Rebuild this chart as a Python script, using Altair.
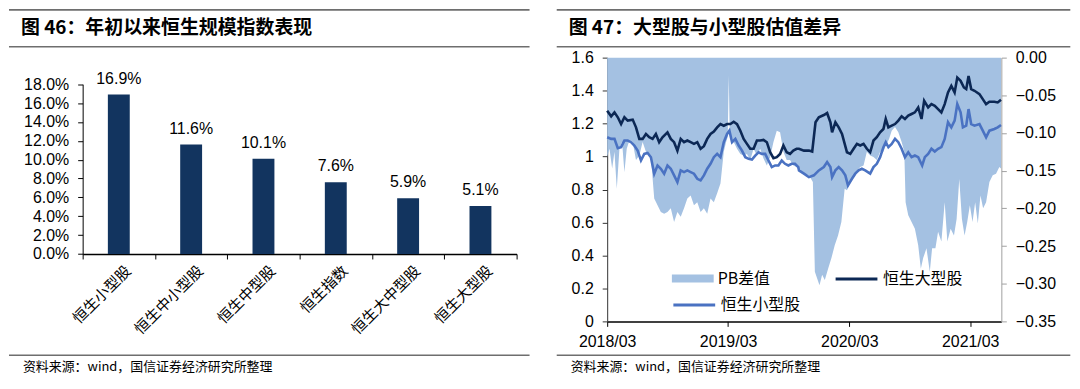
import altair as alt
import pandas as pd

CJK = "Noto Sans CJK SC"
LAT = "Liberation Sans"

# ---------------- left chart data ----------------
bar_names = ["恒生小型股", "恒生中小型股", "恒生中型股", "恒生指数", "恒生大中型股", "恒生大型股"]
bar_values = [0.169, 0.116, 0.101, 0.076, 0.059, 0.051]
left_ticks = [0, 0.02, 0.04, 0.06, 0.08, 0.10, 0.12, 0.14, 0.16, 0.18]

# ---------------- right chart data (days after 2018-03-01) ----------------
base_date = pd.Timestamp("2018-03-01")

big_days = [0, 12, 22, 32, 42, 52, 62, 77, 87, 97, 107, 117, 127, 137, 147, 157, 167, 182, 192, 202,
            212, 222, 232, 242, 252, 262, 272, 282, 292, 302, 312, 322, 332, 342, 352, 362, 372, 382,
            392, 402, 412, 422, 432, 442, 452, 462, 472, 482, 492, 502, 512, 522, 532, 542, 552, 562,
            572, 579, 594, 609, 619, 629, 639, 654, 664, 674, 679, 689, 699, 709, 724, 734, 744, 754,
            764, 774, 784, 794, 804, 814, 824, 834, 841, 849, 859, 869, 879, 889, 899, 909, 919, 929,
            939, 949, 957, 969, 979, 989, 999, 1009, 1019, 1029, 1039, 1049, 1057, 1067, 1077, 1084,
            1091, 1099, 1109, 1124, 1134, 1144, 1154, 1169, 1179, 1189]
big_vals = [1.278, 1.244, 1.268, 1.238, 1.197, 1.238, 1.218, 1.224, 1.177, 1.107, 1.107, 1.137, 1.117,
            1.107, 1.137, 1.087, 1.117, 1.147, 1.107, 1.087, 1.036, 1.107, 1.087, 1.097, 1.087, 1.077,
            1.087, 1.047, 1.063, 1.107, 1.137, 1.151, 1.177, 1.197, 1.187, 1.197, 1.197, 1.211, 1.197,
            1.157, 1.107, 1.077, 1.047, 1.047, 1.097, 1.097, 1.101, 1.087, 1.026, 0.990, 0.996, 1.016,
            1.067, 1.026, 1.016, 1.036, 1.047, 1.047, 1.036, 1.036, 1.030, 1.208, 1.238, 1.252, 1.264,
            1.208, 1.147, 1.208, 1.177, 1.137, 1.026, 1.016, 1.047, 1.077, 1.067, 1.077, 1.047, 1.026,
            1.097, 1.117, 1.147, 1.167, 1.228, 1.177, 1.187, 1.197, 1.218, 1.244, 1.228, 1.248, 1.258,
            1.268, 1.298, 1.228, 1.338, 1.298, 1.318, 1.308, 1.288, 1.268, 1.318, 1.389, 1.429, 1.389,
            1.479, 1.459, 1.419, 1.409, 1.489, 1.409, 1.399, 1.379, 1.348, 1.318, 1.332, 1.332, 1.328,
            1.344]

small_days = [0, 12, 22, 32, 42, 52, 62, 72, 82, 92, 102, 112, 122, 132, 142, 152, 162, 172, 182, 192,
              202, 212, 222, 232, 242, 252, 262, 272, 282, 292, 302, 312, 322, 332, 342, 352, 362, 369,
              377, 387, 397, 407, 417, 427, 437, 447, 457, 467, 477, 487, 497, 507, 517, 527, 537, 547,
              557, 567, 577, 579, 594, 609, 624, 639, 654, 664, 674, 679, 689, 699, 709, 719, 727, 739,
              749, 759, 769, 779, 794, 804, 814, 824, 834, 841, 849, 859, 869, 879, 889, 899, 909, 919,
              929, 939, 951, 959, 969, 979, 989, 999, 1009, 1019, 1029, 1039, 1049, 1057, 1067, 1074,
              1084, 1091, 1099, 1109, 1124, 1134, 1144, 1154, 1169, 1179, 1189]
small_vals = [1.117, 1.107, 1.107, 1.051, 1.057, 1.097, 1.097, 1.087, 1.067, 1.036, 0.976, 1.016, 1.022,
              0.996, 0.896, 0.946, 0.926, 0.896, 0.946, 0.926, 0.886, 0.845, 0.916, 0.906, 0.916, 0.906,
              0.896, 0.865, 0.855, 0.886, 0.926, 0.956, 0.996, 1.016, 0.996, 1.087, 1.137, 1.157, 1.087,
              1.107, 1.067, 1.036, 0.996, 0.986, 0.982, 1.006, 1.026, 1.016, 1.016, 0.976, 0.936, 0.946,
              0.946, 0.976, 0.956, 0.946, 0.956, 0.956, 0.936, 0.916, 0.896, 0.875, 0.886, 0.916, 0.936,
              0.966, 0.936, 0.875, 0.916, 0.936, 0.916, 0.886, 0.825, 0.865, 0.896, 0.916, 0.926, 0.916,
              0.896, 0.936, 0.956, 0.996, 1.057, 1.087, 1.057, 1.077, 1.107, 1.087, 1.047, 0.996, 1.026,
              0.996, 1.006, 0.996, 0.946, 0.996, 1.016, 1.047, 1.030, 1.047, 1.057, 1.107, 1.208, 1.177,
              1.218, 1.318, 1.268, 1.177, 1.187, 1.288, 1.197, 1.187, 1.197, 1.157, 1.117, 1.157, 1.167,
              1.177, 1.191]

pb_days = [0, 7, 15, 22, 29, 37, 45, 52, 59, 67, 77, 87, 97, 107, 117, 132, 142, 152, 162, 172, 182,
           192, 202, 212, 222, 232, 242, 252, 262, 272, 282, 292, 302, 312, 322, 332, 342, 352, 359,
           364, 367, 370, 382, 392, 402, 412, 422, 432, 442, 452, 462, 472, 482, 492, 502, 512, 522,
           532, 542, 552, 562, 572, 579, 594, 609, 621, 627, 634, 641, 649, 657, 667, 677, 687, 697,
           707, 717, 724, 734, 744, 754, 764, 774, 784, 794, 804, 814, 824, 834, 841, 851, 859, 869,
           879, 889, 897, 901, 909, 919, 929, 939, 947, 954, 964, 974, 981, 991, 999, 1009, 1019, 1027,
           1037, 1047, 1055, 1063, 1071, 1079, 1087, 1095, 1103, 1111, 1119, 1127, 1135, 1144, 1154,
           1164, 1174, 1184, 1189]
pb_vals = [-0.132, -0.121, -0.147, -0.125, -0.174, -0.121, -0.112, -0.152, -0.121, -0.110, -0.112,
           -0.136, -0.130, -0.112, -0.125, -0.132, -0.187, -0.196, -0.205, -0.207, -0.205, -0.200,
           -0.218, -0.205, -0.211, -0.200, -0.187, -0.183, -0.196, -0.192, -0.205, -0.200, -0.207,
           -0.187, -0.192, -0.180, -0.167, -0.125, -0.112, -0.105, -0.024, -0.100, -0.112, -0.121,
           -0.128, -0.130, -0.128, -0.136, -0.121, -0.130, -0.121, -0.134, -0.143, -0.132, -0.112,
           -0.097, -0.099, -0.125, -0.136, -0.136, -0.143, -0.145, -0.150, -0.154, -0.156, -0.165,
           -0.284, -0.293, -0.302, -0.288, -0.295, -0.280, -0.266, -0.249, -0.236, -0.218, -0.174,
           -0.176, -0.165, -0.156, -0.150, -0.145, -0.143, -0.125, -0.130, -0.132, -0.136, -0.125,
           -0.125, -0.117, -0.108, -0.097, -0.092, -0.099, -0.112, -0.125, -0.192, -0.209, -0.218,
           -0.227, -0.249, -0.280, -0.266, -0.253, -0.284, -0.253, -0.253, -0.231, -0.244, -0.192,
           -0.244, -0.227, -0.236, -0.214, -0.161, -0.214, -0.236, -0.218, -0.196, -0.218, -0.192,
           -0.220, -0.183, -0.200, -0.192, -0.165, -0.156, -0.154, -0.145, -0.147]

right_left_ticks = [0, 0.2, 0.4, 0.6, 0.8, 1.0, 1.2, 1.4, 1.6]
right_right_ticks = [0, -0.05, -0.10, -0.15, -0.20, -0.25, -0.30, -0.35]
x_tick_years = [2018, 2019, 2020, 2021]


def to_dates(days):
    return [(base_date + pd.Timedelta(days=d)).strftime("%Y-%m-%d") for d in days]


big_df = pd.DataFrame({"date": to_dates(big_days), "v": big_vals, "s": "恒生大型股"})
small_df = pd.DataFrame({"date": to_dates(small_days), "v": small_vals, "s": "恒生小型股"})
pb_df = pd.DataFrame({"date": to_dates(pb_days), "v": pb_vals, "s": "PB差值"})
bar_df = pd.DataFrame({"name": bar_names, "v": bar_values})


# ---------------- decorations ----------------
def hrule(x1, x2, y):
    return alt.Chart(pd.DataFrame({"k": [0]})).mark_rule(
        color="#6e6e6e", strokeWidth=1.6
    ).encode(x=alt.value(x1), x2=alt.value(x2), y=alt.value(y))


def label(text, x, y, size, bold):
    return alt.Chart(pd.DataFrame({"t": [text]})).mark_text(
        align="left", baseline="middle", fontSize=size, font=CJK,
        fontWeight="bold" if bold else "normal", color="#000"
    ).encode(x=alt.value(x), y=alt.value(y), text="t:N")


# ---------------- left panel (view origin shares the row top with right panel) ----------------
LEFT_H = 197.3
x_left = alt.X(
    "name:N", sort=bar_names,
    scale=alt.Scale(paddingInner=0, paddingOuter=0),
    axis=alt.Axis(title=None, labelAngle=-45, labelFontSize=15, labelFont=CJK, labelColor="#000",
                  tickBand="extent", domainColor="#000", domainWidth=1.5, tickColor="#000",
                  tickSize=5, labelPadding=4, labelOffset=4),
)
y_left = alt.Y(
    "v:Q", scale=alt.Scale(domain=[0, 0.18], nice=False, range=[LEFT_H, 26.7]),
    axis=alt.Axis(title=None, values=left_ticks, format=".1%", grid=False, labelFontSize=16,
                  labelFont=LAT, labelColor="#000", domainColor="#000", tickColor="#000",
                  tickSize=5, labelPadding=9),
)
bars = alt.Chart(bar_df).mark_bar(width=22, color="#12345f").encode(x=x_left, y=y_left)
bar_text = alt.Chart(bar_df).mark_text(
    baseline="alphabetic", dy=-11, fontSize=16, font=LAT, color="#000"
).encode(x=x_left, y=y_left, text=alt.Text("v:Q", format=".1%"))

left = alt.layer(
    bars, bar_text,
    hrule(-74, 449, -48),
    hrule(-74, 449, -11),
    hrule(-74, 449, 299),
    label("图 46：年初以来恒生规模指数表现", -62, -30, 19, True),
    label("资料来源：wind，国信证券经济研究所整理", -60, 311, 13, False),
).properties(width=436, height=LEFT_H)

# ---------------- right panel ----------------
x_right = alt.X(
    "date:T",
    scale=alt.Scale(type="utc", domain=[alt.DateTime(year=2018, month=3, date=1, utc=True),
                                        alt.DateTime(year=2021, month=6, date=3, utc=True)]),
    axis=alt.Axis(title=None, values=[alt.DateTime(year=y, month=3, date=1, utc=True) for y in x_tick_years],
                  labelExpr="utcFormat(datum.value, '%Y/%m')", grid=False, labelFlush=False,
                  domainColor="#000", domainWidth=1.5, tickColor="#000", tickSize=5,
                  labelFontSize=16, labelFont=LAT, labelColor="#000", labelPadding=7),
)
y_lines = alt.Y(
    "v:Q", scale=alt.Scale(domain=[0, 1.6], nice=False),
    axis=alt.Axis(title=None, orient="left", values=right_left_ticks, format=".1~f", grid=False,
                  labelFontSize=16, labelFont=LAT, labelColor="#000", domainColor="#333",
                  tickColor="#333", tickSize=5, labelPadding=9),
)
y_lines_hidden = alt.Y("v:Q", scale=alt.Scale(domain=[0, 1.6], nice=False), axis=None)
y_pb = alt.Y(
    "v:Q", scale=alt.Scale(domain=[-0.35, 0], nice=False),
    axis=alt.Axis(title=None, orient="right", values=right_right_ticks, format=".2f", grid=False,
                  labelFontSize=16, labelFont=LAT, labelColor="#000", domainColor="#a0a0a0",
                  tickColor="#a0a0a0", tickSize=5, labelPadding=9),
)

area = alt.Chart(pb_df).mark_area(opacity=1).encode(
    x=x_right, y=y_pb, y2=alt.datum(0),
    fill=alt.Fill("s:N", scale=alt.Scale(range=["#a4c1e2"]),
                  legend=alt.Legend(orient="none", legendX=65, legendY=201, title=None,
                                    symbolType="M-1,-0.19H1V0.19H-1Z", symbolSize=1764,
                                    symbolStrokeWidth=0, symbolOpacity=1, labelFontSize=16,
                                    labelFont=CJK, labelColor="#000", labelOffset=4, padding=0)),
)
big_line = alt.Chart(big_df).mark_line(strokeWidth=2.6).encode(
    x=x_right, y=y_lines,
    stroke=alt.Stroke("s:N", scale=alt.Scale(range=["#0c2855"]),
                      legend=alt.Legend(orient="none", legendX=228, legendY=200, title=None,
                                        symbolType="stroke", symbolSize=1764, symbolStrokeWidth=3,
                                        labelFontSize=16, labelFont=CJK, labelColor="#000",
                                        labelOffset=4, padding=0)),
)
small_line = alt.Chart(small_df).mark_line(strokeWidth=2.6).encode(
    x=x_right, y=y_lines_hidden,
    stroke=alt.Stroke("s:N", scale=alt.Scale(range=["#4a72c2"]),
                      legend=alt.Legend(orient="none", legendX=65, legendY=226, title=None,
                                        symbolType="stroke", symbolSize=1764, symbolStrokeWidth=3,
                                        labelFontSize=16, labelFont=CJK, labelColor="#000",
                                        labelOffset=4, padding=0)),
)

right = alt.layer(
    area, big_line, small_line,
    hrule(-50.7, 465.3, -48),
    hrule(-50.7, 465.3, -11),
    hrule(-50.7, 465.3, 299),
    label("图 47：大型股与小型股估值差异", -38.7, -30, 19, True),
    label("资料来源：wind，国信证券经济研究所整理", -36.7, 311, 13, False),
).resolve_scale(y="independent", stroke="independent", fill="independent").properties(width=396, height=265)

chart = alt.hconcat(left, right, spacing=25).resolve_scale(
    fill="independent", stroke="independent"
).configure_view(stroke=None).properties(padding=0, background="white")

chart.save("out.html", embed_options={"renderer": "svg", "actions": False})
